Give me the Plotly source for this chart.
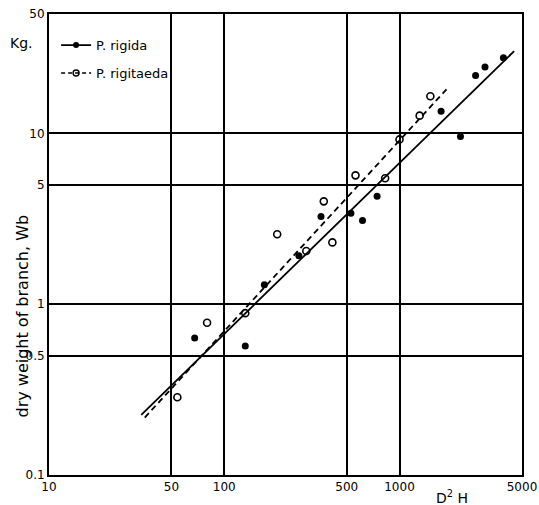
import plotly.graph_objects as go

# P. rigida (filled circles)
rigida_x = [67.8, 131.8, 169.4, 266.7, 356.5, 528, 615, 745, 1727, 2228, 2717, 3075, 3917]
rigida_y = [0.633, 0.57, 1.30, 1.92, 3.26, 3.41, 3.09, 4.28, 13.5, 9.6, 21.8, 24.5, 27.7]

# P. rigitaeda (open circles)
rigitaeda_x = [54, 79.8, 131.8, 200.5, 293.9, 369.8, 414, 561, 828, 1000, 1303, 1500]
rigitaeda_y = [0.285, 0.778, 0.886, 2.57, 2.05, 4.0, 2.30, 5.68, 5.46, 9.22, 12.7, 16.5]

# Fitted regression lines (end points)
rigida_fit_x = [33.6, 4508]
rigida_fit_y = [0.225, 30.3]
rigitaeda_fit_x = [35.2, 1853]
rigitaeda_fit_y = [0.217, 18.1]

x_ticks = [10, 50, 100, 500, 1000, 5000]
x_tick_text = ["10", "50", "100", "500", "1000", "5000"]
y_ticks = [0.1, 0.5, 1, 5, 10, 50]
y_tick_text = ["0.1", "0.5", "1", "5", "10", "50"]

FONT = "DejaVu Sans"
fig = go.Figure()

fig.add_trace(go.Scatter(x=rigida_fit_x, y=rigida_fit_y, mode="lines",
                         line=dict(color="black", width=1.8), showlegend=False, hoverinfo="skip"))
fig.add_trace(go.Scatter(x=rigitaeda_fit_x, y=rigitaeda_fit_y, mode="lines",
                         line=dict(color="black", width=1.8, dash="6px,4px"), showlegend=False, hoverinfo="skip"))
fig.add_trace(go.Scatter(x=rigida_x, y=rigida_y, mode="markers",
                         marker=dict(symbol="circle", size=7, color="black"), showlegend=False))
fig.add_trace(go.Scatter(x=rigitaeda_x, y=rigitaeda_y, mode="markers",
                         marker=dict(symbol="circle-open", size=7, color="black", line=dict(width=1.6)),
                         showlegend=False))
# legend entries
fig.add_trace(go.Scatter(x=[None], y=[None], mode="lines+markers", name="P. rigida",
                         legendgroup="a",
                         marker=dict(symbol="circle", size=6, color="black"),
                         line=dict(color="black", width=1.8)))
fig.add_trace(go.Scatter(x=[None], y=[None], mode="lines+markers", name="P. rigitaeda",
                         legendgroup="b",
                         marker=dict(symbol="circle-open", size=6, color="black", line=dict(width=1.4)),
                         line=dict(color="black", width=1.4, dash="4px,3px")))

axis_common = dict(showline=True, linecolor="black", linewidth=2, mirror=True,
                   showgrid=True, gridcolor="black", gridwidth=1.6, zeroline=False,
                   automargin=False, ticklabeloverflow="allow",
                   ticks="", tickfont=dict(family=FONT, size=12, color="black"))

fig.update_xaxes(type="log", range=[1, 3.699], tickvals=x_ticks, ticktext=x_tick_text, **axis_common)
fig.update_yaxes(type="log", range=[-1, 1.699], tickvals=y_ticks, ticktext=y_tick_text, **axis_common)

fig.update_layout(
    width=539, height=505,
    margin=dict(l=49, r=17, t=14, b=30, autoexpand=False),
    paper_bgcolor="white", plot_bgcolor="white",
    font=dict(family=FONT, size=13, color="black"),
    legend=dict(x=0.015, y=0.965, xanchor="left", yanchor="top", bgcolor="rgba(0,0,0,0)",
                font=dict(family=FONT, size=13), traceorder="grouped", tracegroupgap=8),
    annotations=[
        dict(text="Kg.", xref="paper", yref="paper", x=-0.03, y=0.938, xanchor="right",
             yanchor="middle", showarrow=False, font=dict(family=FONT, size=14)),
        dict(text="D<sup>2</sup> H", xref="paper", yref="paper", x=0.852, y=0, yshift=-22,
             xanchor="center", yanchor="middle", showarrow=False, font=dict(family=FONT, size=14)),
        dict(text="dry weight of branch, Wb", xref="paper", yref="paper", x=-0.056, y=0.345,
             xanchor="center", yanchor="middle", textangle=-90, showarrow=False,
             font=dict(family=FONT, size=16)),
    ],
)

# remove the default page margin so the 539x505 figure fills the window exactly
fig.write_html("out.html",
               config={"displayModeBar": False},
               post_script="document.body.style.margin='0';document.body.style.overflow='hidden';")
